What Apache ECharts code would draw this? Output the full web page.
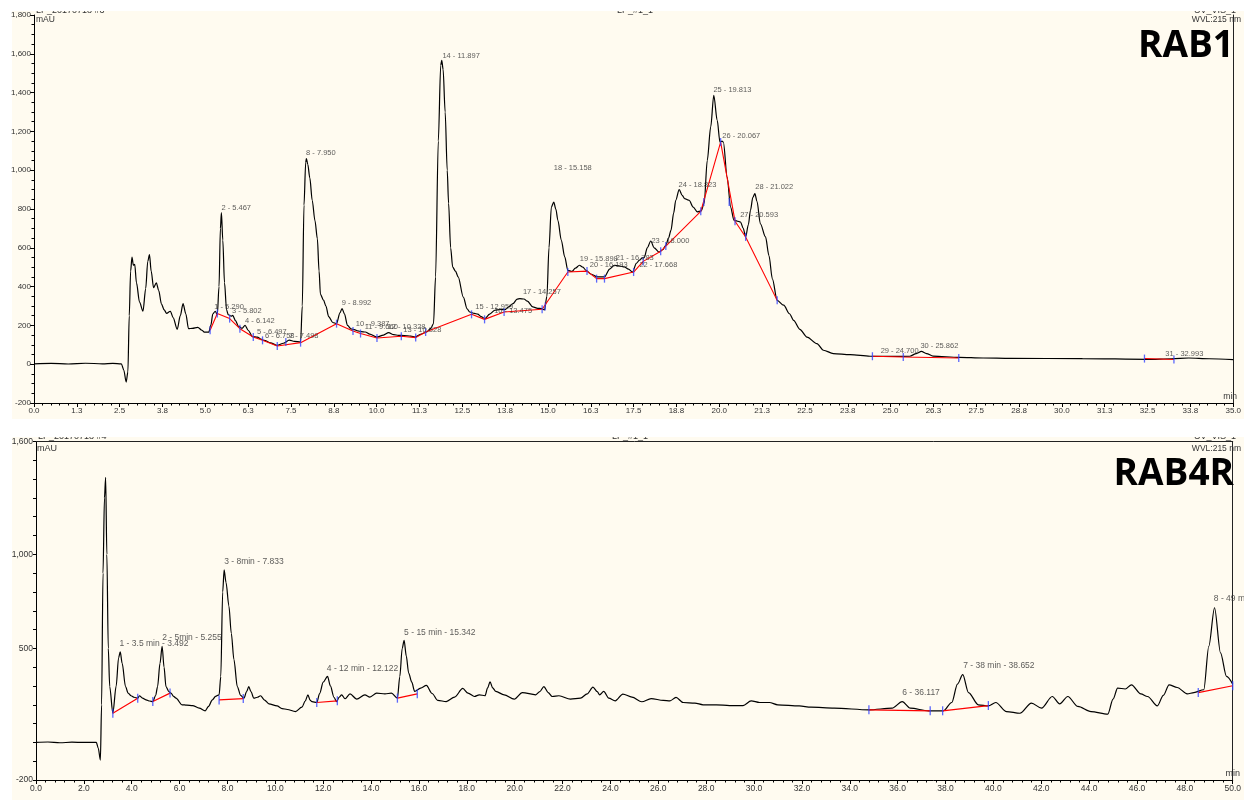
<!DOCTYPE html>
<html>
<head>
<meta charset="utf-8">
<title>RAB1 / RAB4R</title>
<script src="https://cdn.jsdelivr.net/npm/echarts@6/dist/echarts.min.js"></script>
<style>
html, body { margin: 0; padding: 0; background: #fff; }
#chart { width: 1244px; height: 800px; }
</style>
</head>
<body>
<div id="chart"></div>
<script>
// RAB1 trace: [min, mAU]
const rab1Trace = [
    [0.0, 2], [0.5, 4], [1.0, 1], [1.5, 5], [2.0, 2], [2.3, 4], [2.55, 2], [2.62, -30], [2.69, -92], [2.74, -40],
    [2.78, 250], [2.82, 480], [2.86, 552], [2.90, 510], [2.94, 515], [2.99, 420], [3.08, 320], [3.18, 273], [3.26, 390],
    [3.32, 530], [3.37, 565], [3.42, 480], [3.49, 395], [3.57, 419], [3.64, 380], [3.72, 310], [3.80, 280], [3.87, 262],
    [3.98, 273], [4.06, 240], [4.18, 180], [4.27, 250], [4.35, 312], [4.43, 260], [4.51, 183], [4.62, 185], [4.78, 190],
    [4.90, 175], [4.97, 165], [5.10, 165], [5.16, 200], [5.22, 260], [5.29, 273], [5.35, 255], [5.40, 400], [5.44, 700],
    [5.47, 781], [5.51, 640], [5.56, 420], [5.62, 280], [5.67, 255], [5.76, 248], [5.80, 252], [5.88, 225], [5.97, 195],
    [6.07, 185], [6.16, 200], [6.25, 175], [6.38, 142], [6.52, 140], [6.62, 130], [6.72, 123], [6.90, 110], [7.10, 97],
    [7.28, 108], [7.45, 124], [7.60, 118], [7.78, 114], [7.83, 300], [7.88, 820], [7.93, 1040], [7.95, 1060], [7.99, 1030],
    [8.05, 960], [8.12, 845], [8.20, 740], [8.27, 647], [8.32, 480], [8.36, 360], [8.45, 330], [8.52, 300], [8.60, 245],
    [8.72, 215], [8.83, 209], [8.93, 265], [8.99, 287], [9.06, 260], [9.15, 200], [9.25, 182], [9.35, 178], [9.45, 172],
    [9.55, 168], [9.67, 166], [9.80, 155], [10.0, 140], [10.20, 150], [10.35, 163], [10.50, 152], [10.64, 149], [10.80, 148],
    [11.0, 145], [11.12, 140], [11.30, 155], [11.46, 166], [11.58, 185], [11.66, 209], [11.72, 450], [11.80, 1150],
    [11.87, 1540], [11.90, 1566], [11.94, 1520], [12.0, 1300], [12.06, 1000], [12.10, 830], [12.16, 600], [12.22, 500],
    [12.30, 480], [12.38, 450], [12.53, 346], [12.64, 285], [12.72, 269], [12.85, 262], [12.95, 258], [13.05, 245],
    [13.16, 235], [13.30, 258], [13.45, 278], [13.60, 282], [13.74, 281], [13.85, 295], [13.98, 312], [14.10, 335],
    [14.18, 338], [14.30, 336], [14.40, 325], [14.56, 295], [14.70, 288], [14.81, 287], [14.90, 280], [14.97, 350],
    [15.03, 600], [15.10, 810], [15.17, 836], [15.23, 800], [15.29, 742], [15.39, 639], [15.49, 553], [15.58, 484],
    [15.70, 478], [15.80, 495], [15.92, 510], [16.02, 500], [16.11, 484], [16.25, 465], [16.45, 450], [16.65, 450],
    [16.80, 490], [16.94, 510], [17.10, 506], [17.23, 501], [17.35, 490], [17.47, 475], [17.58, 520], [17.67, 536],
    [17.75, 548], [17.81, 549], [17.90, 600], [18.00, 635], [18.10, 600], [18.24, 578], [18.35, 590], [18.44, 613],
    [18.52, 650], [18.59, 690], [18.67, 780], [18.73, 845], [18.83, 900], [18.92, 870], [18.99, 853], [19.12, 845],
    [19.24, 810], [19.36, 785], [19.47, 790], [19.56, 830], [19.65, 1051], [19.75, 1223], [19.84, 1386], [19.94, 1257],
    [20.02, 1145], [20.08, 1150], [20.12, 1145], [20.23, 965], [20.33, 810], [20.43, 742], [20.52, 738], [20.62, 733],
    [20.70, 700], [20.77, 656], [20.85, 720], [20.91, 793], [20.98, 860], [21.04, 879], [21.10, 840], [21.20, 724],
    [21.35, 656], [21.45, 560], [21.55, 440], [21.69, 329], [21.88, 304], [22.05, 260], [22.17, 226], [22.35, 180],
    [22.56, 140], [22.85, 106], [23.04, 72], [23.33, 55], [23.82, 49], [24.4, 41], [25.0, 40], [25.56, 41], [25.75, 55],
    [25.9, 66], [26.05, 55], [26.24, 42], [27.0, 35], [27.7, 32], [28.5, 30], [30.6, 29], [32.5, 25], [33.2, 28],
    [33.7, 32], [34.3, 28], [35.0, 24]
];
// RAB1 integration baseline (null = gap)
const rab1Baseline = [
    [5.14, 175], [5.35, 261], [5.71, 235], [6.01, 183], [6.40, 140], [6.67, 123], [7.10, 94], [7.78, 111], [8.83, 209],
    [9.31, 171], [9.53, 158], [10.01, 135], [10.72, 144], [11.14, 137], [11.43, 166], [12.77, 257], [13.15, 231],
    [13.72, 269], [14.83, 283], [15.58, 475], [16.14, 480], [16.42, 441], [16.65, 441], [17.50, 475], [17.78, 530],
    [18.29, 582], [18.44, 609], [19.46, 788], [20.04, 1145], [20.46, 737], [20.77, 656], [21.69, 329], null,
    [24.47, 41], [25.37, 37], [26.99, 32], null,
    [32.41, 29], [33.27, 24]
];
const rab1ExtraMarks = [[7.35, 114], [14.92, 298], [19.55, 836], [20.29, 836]];
// peak labels: [min, mAU, text]
const rab1Peaks = [
    [5.26, 293, '1 - 5.290'], [5.47, 804, '2 - 5.467'], [5.78, 273, '3 - 5.802'], [6.16, 221, '4 - 6.142'],
    [6.51, 164, '5 - 6.497'], [6.74, 144, '6 - 6.758'], [7.44, 144, '7 - 7.498'], [7.94, 1087, '8 - 7.950'],
    [8.98, 314, '9 - 8.992'], [9.39, 206, '10 - 9.387'], [9.65, 190, '11 - 9.660'], [10.32, 190, '12 - 10.328'],
    [10.78, 175, '13 - 10.828'], [11.92, 1589, '14 - 11.897'], [12.88, 293, '15 - 12.959'], [13.43, 277, '16 - 13.475'],
    [14.27, 371, '17 - 14.257'], [15.17, 1010, '18 - 15.158'], [15.93, 541, '19 - 15.898'], [16.22, 510, '20 - 16.193'],
    [16.98, 546, '21 - 16.783'], [17.67, 511, '22 - 17.668'], [18.02, 635, '23 - 18.000'], [18.81, 926, '24 - 18.823'],
    [19.83, 1415, '25 - 19.813'], [20.09, 1175, '26 - 20.067'], [20.61, 767, '27 - 20.593'], [21.05, 912, '28 - 21.022'],
    [24.71, 66, '29 - 24.700'], [25.87, 92, '30 - 25.862'], [33.02, 51, '31 - 32.993']
];

// RAB4R trace: [min, mAU]
const rab4rTrace = [
    [0.0, 0], [0.5, 2], [1.0, -2], [1.5, 1], [2.0, 0], [2.52, 0], [2.60, -30], [2.69, -94], [2.74, 200], [2.80, 900],
    [2.86, 1300], [2.91, 1410], [2.96, 1000], [3.02, 500], [3.08, 297], [3.21, 155], [3.35, 300], [3.45, 450], [3.52, 481],
    [3.60, 420], [3.74, 297], [3.85, 262], [3.97, 248], [4.10, 240], [4.25, 235], [4.32, 248], [4.45, 235], [4.60, 226],
    [4.75, 220], [4.88, 217], [5.00, 250], [5.08, 297], [5.18, 420], [5.27, 511], [5.35, 400], [5.43, 297], [5.55, 270],
    [5.64, 262], [5.75, 245], [5.85, 235], [6.10, 200], [6.30, 198], [6.54, 196], [6.82, 182], [7.07, 168], [7.20, 190],
    [7.37, 226], [7.50, 245], [7.65, 253], [7.72, 350], [7.80, 800], [7.86, 917], [7.94, 850], [8.06, 725], [8.16, 580],
    [8.27, 440], [8.41, 297], [8.55, 250], [8.69, 235], [8.80, 270], [8.89, 297], [8.98, 270], [9.10, 235], [9.25, 240],
    [9.38, 248], [9.55, 225], [9.73, 205], [10.07, 194], [10.28, 180], [10.50, 175], [10.84, 164], [11.11, 187],
    [11.25, 220], [11.36, 253], [11.45, 225], [11.53, 217], [11.73, 212], [11.85, 260], [12.0, 320], [12.18, 351],
    [12.30, 300], [12.45, 240], [12.56, 217], [12.66, 240], [12.77, 253], [12.91, 232], [13.12, 258], [13.40, 230],
    [13.74, 253], [13.95, 241], [14.23, 262], [14.58, 258], [14.85, 262], [15.10, 235], [15.20, 350], [15.30, 500],
    [15.38, 543], [15.47, 460], [15.57, 369], [15.70, 320], [15.82, 271], [16.07, 289], [16.31, 303], [16.55, 260],
    [16.79, 223], [17.14, 217], [17.49, 241], [17.83, 287], [18.05, 262], [18.32, 244], [18.52, 253], [18.76, 248],
    [18.87, 290], [18.97, 322], [19.08, 290], [19.21, 271], [19.56, 253], [19.98, 230], [20.32, 265], [20.88, 253],
    [21.05, 270], [21.22, 297], [21.40, 265], [21.57, 244], [21.85, 248], [22.33, 230], [22.75, 235], [23.03, 258],
    [23.27, 294], [23.45, 270], [23.55, 253], [23.72, 271], [23.93, 235], [24.20, 221], [24.52, 257], [24.90, 241],
    [25.31, 216], [25.70, 233], [26.21, 223], [26.49, 221], [26.74, 239], [27.04, 212], [27.53, 209], [27.87, 200],
    [28.43, 200], [28.98, 196], [29.54, 196], [29.88, 221], [30.23, 212], [30.64, 212], [30.99, 200], [31.89, 194],
    [32.38, 187], [33.35, 182], [34.80, 173], [35.77, 182], [36.19, 217], [36.53, 182], [37.29, 168], [37.91, 168],
    [38.26, 212], [38.50, 310], [38.72, 360], [38.96, 265], [39.37, 200], [39.79, 194], [40.10, 212], [40.55, 164],
    [41.11, 155], [41.59, 209], [42.01, 182], [42.46, 244], [42.77, 205], [43.11, 244], [43.53, 191], [44.08, 164],
    [44.78, 150], [45.00, 230], [45.19, 289], [45.51, 284], [45.77, 306], [46.16, 258], [46.44, 244], [46.85, 194],
    [47.10, 250], [47.34, 306], [47.68, 292], [48.10, 258], [48.38, 265], [48.79, 280], [49.00, 511], [49.24, 716],
    [49.49, 476], [49.74, 351], [50.0, 310]
];
const rab4rBaseline = [
    [3.21, 155], [4.25, 235], null, [4.88, 217], [5.60, 262], null, [7.65, 226], [8.66, 233], null,
    [11.73, 212], [12.59, 221], null, [15.10, 235], [15.93, 258], null, [34.80, 173], [37.36, 168], null,
    [37.88, 168], [39.79, 196], null, [48.56, 265], [50.0, 301]
];
const rab4rPeaks = [
    [3.49, 525, '1 - 3.5 min - 3.492'], [5.27, 556, '2 - 5min - 5.255'], [7.86, 959, '3 - 8min - 7.833'],
    [12.15, 390, '4 - 12 min - 12.122'], [15.38, 582, '5 - 15 min - 15.342'], [36.19, 262, '6 - 36.117'],
    [38.74, 408, '7 - 38 min - 38.652'], [49.21, 765, '8 - 49 min - 49.190']
];

const rab1YTicks = { min: -200, max: 1800, step: 200 };
const rab4rYLabels = [-200, 500, 1000, 1600];

const chart = echarts.init(document.getElementById('chart'));

const FONT = '"Liberation Sans", Arial, sans-serif';
const NARROW = '"Liberation Sans Narrow", "Arial Narrow", "Liberation Sans", sans-serif';

function comma(v) {
    return String(v).replace(/\B(?=(\d{3})+(?!\d))/g, ',');
}

function axisX(grid, max, step, font, size) {
    return {
        gridIndex: grid, type: 'value', min: 0, max: max, interval: step,
        axisLine: { show: true, onZero: false, lineStyle: { color: '#000', width: 1 } },
        axisTick: { show: true, length: 4, lineStyle: { color: '#000' } },
        minorTick: { show: true, splitNumber: 5, length: 2.5, lineStyle: { color: '#000' } },
        axisLabel: { fontSize: size, fontFamily: font, color: '#333', margin: 4, formatter: v => v.toFixed(1) },
        splitLine: { show: false }, minorSplitLine: { show: false }
    };
}

function borderAxis(grid, pos) {
    return {
        gridIndex: grid, type: 'value', position: pos,
        axisLine: { show: true, onZero: false, lineStyle: { color: '#222', width: 1 } },
        axisTick: { show: false }, axisLabel: { show: false }, splitLine: { show: false }
    };
}

function peakLabels(data, xi, yi, font, size) {
    return {
        type: 'scatter', xAxisIndex: xi, yAxisIndex: yi, symbolSize: 0, z: 6, silent: true,
        data: data,
        label: {
            show: true, position: [0, 0], align: 'left', verticalAlign: 'middle',
            fontSize: size, fontFamily: font, color: '#333',
            formatter: p => p.data[2]
        }
    };
}

const option = {
    animation: false,
    backgroundColor: '#fff',
    grid: [
        { left: 34, right: 6, top: 15, height: 388 },
        { left: 36, right: 5, top: 441.5, height: 338.5 }
    ],
    xAxis: [
        axisX(0, 35, 1.25, FONT, 8),
        axisX(1, 50, 2, NARROW, 8.5),
        Object.assign(borderAxis(1, 'top'), { min: 0, max: 50 })
    ],
    yAxis: [
        {
            gridIndex: 0, type: 'value', min: rab1YTicks.min, max: rab1YTicks.max, interval: rab1YTicks.step,
            axisLine: { show: true, onZero: false, lineStyle: { color: '#000' } },
            axisTick: { show: true, length: 4, lineStyle: { color: '#000' } },
            minorTick: { show: true, splitNumber: 4, length: 2.5, lineStyle: { color: '#000' } },
            axisLabel: { fontSize: 8, fontFamily: FONT, color: '#333', margin: 3, formatter: comma },
            splitLine: { show: false }, minorSplitLine: { show: false }
        },
        Object.assign(borderAxis(0, 'right'), { min: -200, max: 1800 }),
        {
            gridIndex: 1, type: 'value', min: -200, max: 1600, interval: 100,
            axisLine: { show: true, onZero: false, lineStyle: { color: '#000' } },
            axisTick: { show: true, length: 3, lineStyle: { color: '#000' } },
            axisLabel: {
                fontSize: 8.5, fontFamily: NARROW, color: '#333', margin: 3,
                formatter: v => rab4rYLabels.indexOf(v) >= 0 ? comma(v) : ''
            },
            splitLine: { show: false }
        },
        Object.assign(borderAxis(1, 'right'), { min: -200, max: 1600 })
    ],
    graphic: [
        { type: 'rect', z: -10, shape: { x: 12, y: 11, width: 1232, height: 408 }, style: { fill: '#fffbf0' } },
        { type: 'rect', z: -10, shape: { x: 12, y: 437, width: 1232, height: 363 }, style: { fill: '#fffbf0' } },
        { type: 'text', z: 50, x: 36, y: 11, style: { text: 'LP_20170718 #3', fontSize: 9, fontFamily: FONT, fill: '#333', verticalAlign: 'middle' } },
        { type: 'text', z: 50, x: 635, y: 11, style: { text: 'LP_#1_1', fontSize: 9, fontFamily: FONT, fill: '#333', align: 'center', verticalAlign: 'middle' } },
        { type: 'text', z: 50, x: 1236, y: 11, style: { text: 'UV_VIS_1', fontSize: 9, fontFamily: FONT, fill: '#333', align: 'right', verticalAlign: 'middle' } },
        { type: 'text', z: 50, x: 1241, y: 19.5, style: { text: 'WVL:215 nm', fontSize: 8.5, fontFamily: FONT, fill: '#333', align: 'right', verticalAlign: 'middle' } },
        { type: 'text', z: 50, x: 36, y: 20, style: { text: 'mAU', fontSize: 8.5, fontFamily: FONT, fill: '#333', verticalAlign: 'middle' } },
        { type: 'text', z: 50, x: 1237, y: 397, style: { text: 'min', fontSize: 8.5, fontFamily: FONT, fill: '#333', align: 'right', verticalAlign: 'middle' } },
        { type: 'text', z: 50, x: 1234, y: 46, style: { text: 'RAB1', fontSize: 37, fontWeight: 'bold', fontFamily: '"Open Sans", "Noto Sans", sans-serif', fill: '#000', align: 'right', verticalAlign: 'middle' } },
        { type: 'text', z: 50, x: 38, y: 437, style: { text: 'LP_20170718 #4', fontSize: 9, fontFamily: NARROW, fill: '#333', verticalAlign: 'middle' } },
        { type: 'text', z: 50, x: 630, y: 437, style: { text: 'LP_#1_1', fontSize: 9, fontFamily: NARROW, fill: '#333', align: 'center', verticalAlign: 'middle' } },
        { type: 'text', z: 50, x: 1236, y: 437, style: { text: 'UV_VIS_1', fontSize: 9, fontFamily: NARROW, fill: '#333', align: 'right', verticalAlign: 'middle' } },
        { type: 'text', z: 50, x: 1241, y: 449, style: { text: 'WVL:215 nm', fontSize: 8.5, fontFamily: NARROW, fill: '#333', align: 'right', verticalAlign: 'middle' } },
        { type: 'text', z: 50, x: 37, y: 449, style: { text: 'mAU', fontSize: 9, fontFamily: NARROW, fill: '#333', verticalAlign: 'middle' } },
        { type: 'text', z: 50, x: 1240, y: 774, style: { text: 'min', fontSize: 9, fontFamily: NARROW, fill: '#333', align: 'right', verticalAlign: 'middle' } },
        { type: 'text', z: 50, x: 1234, y: 474, style: { text: 'RAB4R', fontSize: 37, fontWeight: 'bold', fontFamily: '"Open Sans", "Noto Sans", sans-serif', fill: '#000', align: 'right', verticalAlign: 'middle' } },
        // white bands that crop the header lines
        { type: 'rect', z: 100, shape: { x: 0, y: 0, width: 1244, height: 11 }, style: { fill: '#fff' } },
        { type: 'rect', z: 100, shape: { x: 0, y: 419, width: 1244, height: 18 }, style: { fill: '#fff' } }
    ],
    series: [
        {
            type: 'line', xAxisIndex: 0, yAxisIndex: 0, data: rab1Trace, showSymbol: false, z: 3,
            smooth: 0.3, smoothMonotone: 'x', lineStyle: { color: '#000', width: 1.2 }
        },
        {
            type: 'line', xAxisIndex: 0, yAxisIndex: 0, data: rab1Baseline, showSymbol: false, z: 4,
            connectNulls: false, lineStyle: { color: '#ff0000', width: 1.1 }
        },
        {
            type: 'scatter', xAxisIndex: 0, yAxisIndex: 0, z: 5, symbol: 'rect', symbolSize: [1.3, 8],
            itemStyle: { color: '#3344ff' },
            data: rab1Baseline.filter(p => p).concat(rab1ExtraMarks)
        },
        peakLabels(rab1Peaks, 0, 0, FONT, 7.5),
        {
            type: 'line', xAxisIndex: 1, yAxisIndex: 2, data: rab4rTrace, showSymbol: false, z: 3,
            smooth: 0.3, smoothMonotone: 'x', lineStyle: { color: '#000', width: 1.2 }
        },
        {
            type: 'line', xAxisIndex: 1, yAxisIndex: 2, data: rab4rBaseline, showSymbol: false, z: 4,
            connectNulls: false, lineStyle: { color: '#ff0000', width: 1.2 }
        },
        {
            type: 'scatter', xAxisIndex: 1, yAxisIndex: 2, z: 5, symbol: 'rect', symbolSize: [1.3, 9],
            itemStyle: { color: '#3344ff' },
            data: rab4rBaseline.filter(p => p)
        },
        peakLabels(rab4rPeaks, 1, 2, NARROW, 8.5)
    ]
};

chart.setOption(option);

window.addEventListener('resize', function () {
    chart.resize();
});
</script>
</body>
</html>
